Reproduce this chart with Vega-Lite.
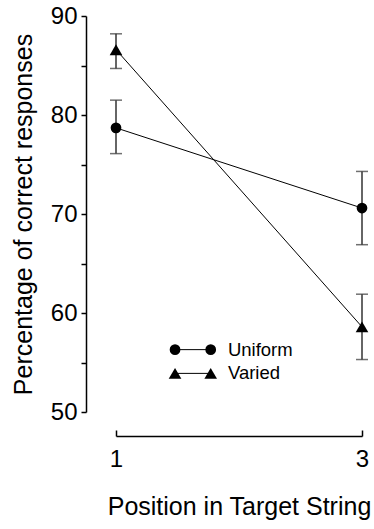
{
  "$schema": "https://vega.github.io/schema/vega-lite/v6.json",
  "autosize": "none",
  "padding": {"left": 116, "top": 16, "right": 12, "bottom": 117},
  "width": 246,
  "height": 396,
  "background": "white",
  "config": {
    "view": {"stroke": null},
    "font": "Liberation Sans",
    "axis": {"grid": false, "labelFont": "Liberation Sans", "titleFont": "Liberation Sans", "labelColor": "black", "titleColor": "black", "domainColor": "black", "tickColor": "black", "titleFontWeight": "normal"}
  },
  "datasets": {
    "main": [
      {"pos": 1, "cond": "Uniform", "m": 78.7, "lo": 76.1, "hi": 81.5},
      {"pos": 3, "cond": "Uniform", "m": 70.6, "lo": 66.9, "hi": 74.3},
      {"pos": 1, "cond": "Varied", "m": 86.6, "lo": 84.7, "hi": 88.2},
      {"pos": 3, "cond": "Varied", "m": 58.6, "lo": 55.3, "hi": 61.9}
    ],
    "leg": [
      {"lx": 1.48, "ly": 56.3, "cond": "Uniform"},
      {"lx": 1.77, "ly": 56.3, "cond": "Uniform"},
      {"lx": 1.48, "ly": 53.9, "cond": "Varied"},
      {"lx": 1.77, "ly": 53.9, "cond": "Varied"}
    ],
    "legtext": [
      {"lx": 1.91, "ly": 56.3, "label": "Uniform"},
      {"lx": 1.91, "ly": 53.9, "label": "Varied"}
    ]
  },
  "layer": [
    {
      "data": {"name": "main"},
      "mark": {"type": "line", "color": "black", "strokeWidth": 1},
      "encoding": {
        "x": {"field": "pos", "type": "quantitative", "scale": {"domain": [1, 3]},
          "axis": {"values": [1, 3], "format": "d", "title": "Position in Target String", "offset": 24, "tickSize": -6, "labelPadding": 17, "domainWidth": 1.5, "tickWidth": 1.5, "titlePadding": 23, "labelFlush": false, "labelFontSize": 24, "titleFontSize": 25}},
        "y": {"field": "m", "type": "quantitative", "scale": {"domain": [50, 90], "nice": false, "zero": false},
          "axis": {"values": [50, 55, 60, 65, 70, 75, 80, 85, 90], "labelExpr": "datum.value % 10 == 0 ? datum.label : ''", "title": "Percentage of correct responses", "offset": 30, "tickSize": 5, "labelPadding": 4, "domainWidth": 1.5, "tickWidth": 1.5, "titlePadding": 14, "labelFontSize": 24, "titleFontSize": 25}},
        "detail": {"field": "cond"}
      }
    },
    {
      "data": {"name": "main"},
      "mark": {"type": "rule", "color": "#333333", "strokeWidth": 1.5},
      "encoding": {
        "x": {"field": "pos", "type": "quantitative"},
        "y": {"field": "lo", "type": "quantitative"},
        "y2": {"field": "hi"}
      }
    },
    {
      "data": {"name": "main"},
      "mark": {"type": "tick", "orient": "horizontal", "color": "#333333", "size": 12, "thickness": 1.5},
      "encoding": {
        "x": {"field": "pos", "type": "quantitative"},
        "y": {"field": "lo", "type": "quantitative"}
      }
    },
    {
      "data": {"name": "main"},
      "mark": {"type": "tick", "orient": "horizontal", "color": "#333333", "size": 12, "thickness": 1.5},
      "encoding": {
        "x": {"field": "pos", "type": "quantitative"},
        "y": {"field": "hi", "type": "quantitative"}
      }
    },
    {
      "data": {"name": "leg"},
      "mark": {"type": "line", "color": "black", "strokeWidth": 1},
      "encoding": {
        "x": {"field": "lx", "type": "quantitative"},
        "y": {"field": "ly", "type": "quantitative"},
        "detail": {"field": "cond"}
      }
    },
    {
      "data": {"name": "main"},
      "mark": {"type": "point", "filled": true, "color": "black", "opacity": 1},
      "encoding": {
        "x": {"field": "pos", "type": "quantitative"},
        "y": {"field": "m", "type": "quantitative"},
        "shape": {"field": "cond", "type": "nominal", "scale": {"domain": ["Uniform", "Varied"], "range": ["circle", "triangle-up"]}, "legend": null},
        "size": {"field": "cond", "type": "nominal", "scale": {"domain": ["Uniform", "Varied"], "range": [115, 160]}, "legend": null}
      }
    },
    {
      "data": {"name": "leg"},
      "mark": {"type": "point", "filled": true, "color": "black", "opacity": 1},
      "encoding": {
        "x": {"field": "lx", "type": "quantitative"},
        "y": {"field": "ly", "type": "quantitative"},
        "shape": {"field": "cond", "type": "nominal"},
        "size": {"field": "cond", "type": "nominal"}
      }
    },
    {
      "data": {"name": "legtext"},
      "mark": {"type": "text", "align": "left", "baseline": "middle", "fontSize": 18.5, "font": "Liberation Sans", "color": "black"},
      "encoding": {
        "x": {"field": "lx", "type": "quantitative"},
        "y": {"field": "ly", "type": "quantitative"},
        "text": {"field": "label"}
      }
    }
  ]
}
